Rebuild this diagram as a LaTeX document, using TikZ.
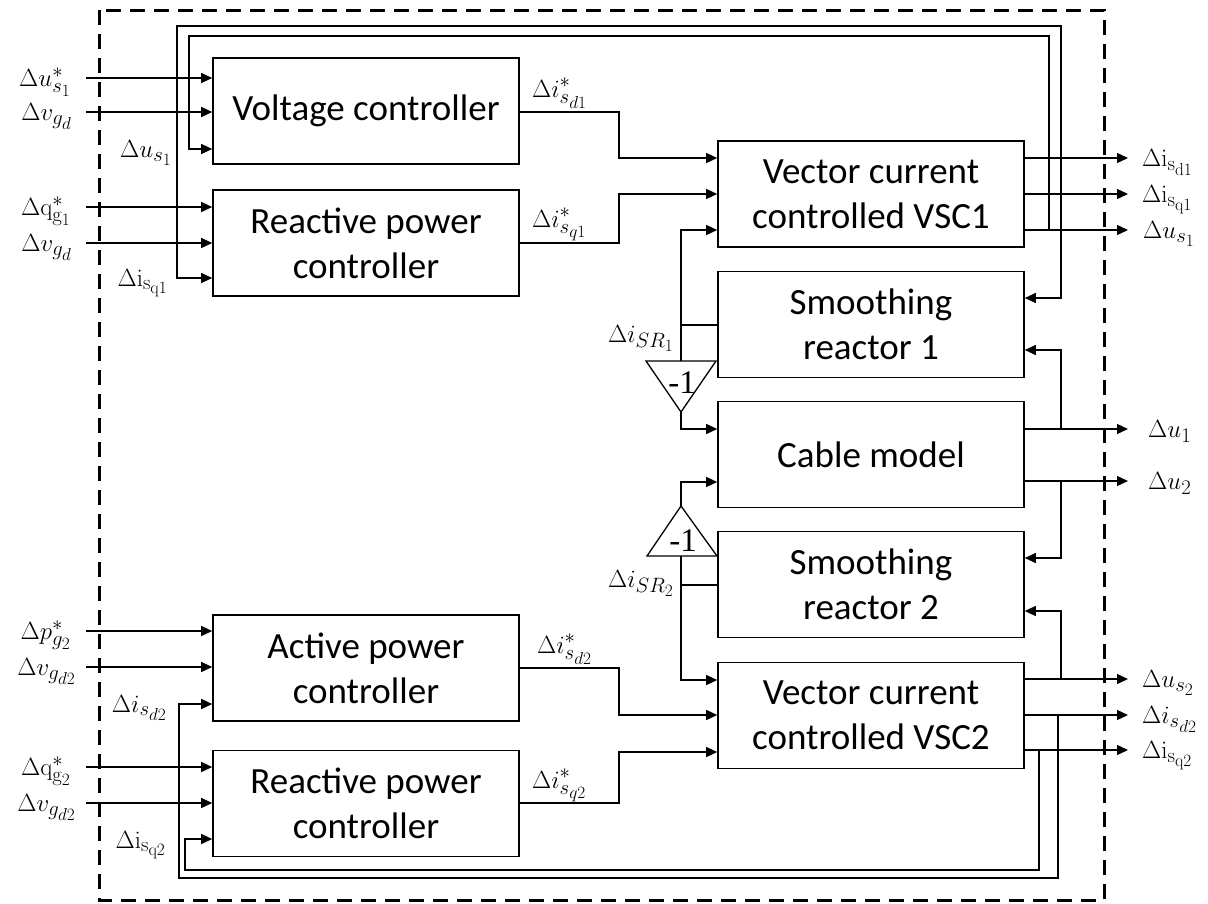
\documentclass[tikz,border=0pt]{standalone}
\usepackage[no-math]{fontspec}
\setmainfont{Carlito}
\newfontfamily\gainfont{Liberation Serif}
\usetikzlibrary{arrows.meta}
\DeclareMathSizes{27}{27}{20}{16}
\begin{document}
\begin{tikzpicture}[x=1pt,y=-1pt,
  blk/.style={draw, line width=1.6pt, minimum width=306pt, minimum height=106pt, align=center, font=\fontsize{37}{45}\selectfont, inner sep=0pt},
  wire/.style={line width=1.3pt},
  arr/.style={wire,-{Triangle[length=11pt,width=10pt]}},
  lab/.style={font=\fontsize{27}{32}\selectfont, inner sep=0pt},
  gain/.style={font=\gainfont\fontsize{33}{38}\selectfont, inner sep=0pt},
  frame/.style={line width=3pt, dash pattern=on 15pt off 9pt}
]
\useasboundingbox (0,0) rectangle (1208,903);
\draw[frame] (99,10) rectangle (1104,900);

% blocks
\node[blk] (vc) at (366,111) {Voltage controller};
\node[blk] (rp1) at (366,243) {Reactive power\\controller};
\node[blk] (vsc1) at (871,194) {Vector current\\controlled VSC1};
\node[blk] (sr1) at (871,324.5) {Smoothing\\reactor 1};
\node[blk] (cab) at (871,454.5) {Cable model};
\node[blk] (sr2) at (871,584.5) {Smoothing\\reactor 2};
\node[blk] (vsc2) at (871,715.5) {Vector current\\controlled VSC2};
\node[blk] (ap) at (366,668) {Active power\\controller};
\node[blk] (rp2) at (366,803.5) {Reactive power\\controller};

% gains
\draw[wire] (646,361) -- (716,361) -- (681,412) -- cycle;
\node[gain] (g1) at (682,383) {-1};
\draw[wire] (647,556) -- (717,556) -- (681,506) -- cycle;
\node[gain] (g2) at (683,541) {-1};
\coordinate (g1in) at (681,361);
\coordinate (g1out) at (681,412);
\coordinate (g2in) at (681,556);
\coordinate (g2out) at (681,506);

% external inputs
\coordinate (a1) at (86,78);   \draw[arr] (a1) -- (a1 -| vc.west);
\coordinate (a2) at (86,112);  \draw[arr] (a2) -- (a2 -| vc.west);
\coordinate (a3) at (86,207);  \draw[arr] (a3) -- (a3 -| rp1.west);
\coordinate (a4) at (86,243);  \draw[arr] (a4) -- (a4 -| rp1.west);
\coordinate (a5) at (86,631);  \draw[arr] (a5) -- (a5 -| ap.west);
\coordinate (a6) at (86,667);  \draw[arr] (a6) -- (a6 -| ap.west);
\coordinate (a7) at (86,767);  \draw[arr] (a7) -- (a7 -| rp2.west);
\coordinate (a8) at (86,803);  \draw[arr] (a8) -- (a8 -| rp2.west);

% controller -> VSC
\draw[arr] (vc.east |- 0,112) -- (619,112) -- (619,158) -- (vsc1.west |- 0,158);
\draw[arr] (rp1.east |- 0,243) -- (619,243) -- (619,194) -- (vsc1.west |- 0,194);
\draw[arr] (ap.east |- 0,668) -- (619,668) -- (619,715) -- (vsc2.west |- 0,715);
\draw[arr] (rp2.east |- 0,803) -- (619,803) -- (619,752) -- (vsc2.west |- 0,752);

% VSC1 outputs
\coordinate (b1) at (1128,158); \draw[arr] (vsc1.east |- b1) -- (b1);
\coordinate (b2) at (1128,194); \draw[arr] (vsc1.east |- b2) -- (b2);
\coordinate (b3) at (1128,230); \draw[arr] (vsc1.east |- b3) -- (b3);
\coordinate (j1) at (1061,194);
\coordinate (j2) at (1049,230);
\draw[arr] (j1) -- (1061,26) -- (177,26) -- (177,278) -- (rp1.west |- 0,278);
\draw[arr] (j2) -- (1049,36) -- (189,36) -- (189,149) -- (vc.west |- 0,149);
\draw[arr] (j1) -- (1061,298) -- (sr1.east |- 0,298);

% smoothing reactor 1
\draw[arr] (sr1.west |- 0,325) -- (681,325) -- (681,230) -- (vsc1.west |- 0,230);
\draw[wire] (681,325) -- (g1in);
\draw[arr] (g1out) -- (681,429) -- (cab.west |- 0,429);

% smoothing reactor 2
\draw[arr] (g2out) -- (681,482) -- (cab.west |- 0,482);
\draw[arr] (sr2.west |- 0,585) -- (681,585) -- (681,680) -- (vsc2.west |- 0,680);
\draw[wire] (681,585) -- (g2in);

% cable outputs
\coordinate (c1) at (1128,429); \draw[arr] (cab.east |- c1) -- (c1);
\coordinate (c2) at (1128,481); \draw[arr] (cab.east |- c2) -- (c2);
\draw[arr] (1061,429) -- (1061,350) -- (sr1.east |- 0,350);
\draw[arr] (1061,481) -- (1061,558) -- (sr2.east |- 0,558);

% VSC2 outputs
\coordinate (d1) at (1128,679); \draw[arr] (vsc2.east |- d1) -- (d1);
\coordinate (d2) at (1128,715); \draw[arr] (vsc2.east |- d2) -- (d2);
\coordinate (d3) at (1128,750); \draw[arr] (vsc2.east |- d3) -- (d3);
\draw[arr] (1061,679) -- (1061,611) -- (sr2.east |- 0,611);
\draw[arr] (1058,715) -- (1058,878) -- (179,878) -- (179,704) -- (ap.west |- 0,704);
\draw[arr] (1039,750) -- (1039,870) -- (185,870) -- (185,839) -- (rp2.west |- 0,839);

% left labels
\node[lab,anchor=base east] (l1) at (71,86.5) {$\Delta u^{*}_{s_1}$};
\node[lab,anchor=base east] (l2) at (72,120.5) {$\Delta v_{g_d}$};
\node[lab,anchor=base east] (l3) at (71,215.5) {$\Delta\mathrm{q}^{*}_{\mathrm{g}_1}$};
\node[lab,anchor=base east] (l4) at (72,251.5) {$\Delta v_{g_d}$};
\node[lab,anchor=base east] (l5) at (71,639.5) {$\Delta p^{*}_{g_2}$};
\node[lab,anchor=base east] (l6) at (76,675.5) {$\Delta v_{g_{d2}}$};
\node[lab,anchor=base east] (l7) at (71,775.5) {$\Delta\mathrm{q}^{*}_{\mathrm{g}_2}$};
\node[lab,anchor=base east] (l8) at (76,811.5) {$\Delta v_{g_{d2}}$};

% feedback labels
\node[lab,anchor=base east] (f1) at (172,157.5) {$\Delta u_{s_1}$};
\node[lab,anchor=base east] (f2) at (168,286) {$\Delta\mathrm{i}_{\mathrm{s}_{\mathrm{q1}}}$};
\node[lab,anchor=base east] (f3) at (167,712) {$\Delta i_{s_{d2}}$};
\node[lab,anchor=base east] (f4) at (166,848) {$\Delta\mathrm{i}_{\mathrm{s}_{\mathrm{q2}}}$};

% right labels
\node[lab,anchor=base west] (r1) at (1142,166.5) {$\Delta\mathrm{i}_{\mathrm{s}_{\mathrm{d1}}}$};
\node[lab,anchor=base west] (r2) at (1142,202.5) {$\Delta\mathrm{i}_{\mathrm{s}_{\mathrm{q1}}}$};
\node[lab,anchor=base west] (r3) at (1143,238.5) {$\Delta u_{s_1}$};
\node[lab,anchor=base west] (r4) at (1148,437.5) {$\Delta u_1$};
\node[lab,anchor=base west] (r5) at (1148,489.5) {$\Delta u_2$};
\node[lab,anchor=base west] (r6) at (1142,687.5) {$\Delta u_{s_2}$};
\node[lab,anchor=base west] (r7) at (1142,723.5) {$\Delta i_{s_{d2}}$};
\node[lab,anchor=base west] (r8) at (1142,758.5) {$\Delta\mathrm{i}_{\mathrm{s}_{\mathrm{q2}}}$};

% wire labels
\node[lab,anchor=base west] (w1) at (532,97) {$\Delta i^{*}_{s_{d1}}$};
\node[lab,anchor=base west] (w2) at (532,227) {$\Delta i^{*}_{s_{q1}}$};
\node[lab,anchor=base west] (w3) at (537,653) {$\Delta i^{*}_{s_{d2}}$};
\node[lab,anchor=base west] (w4) at (532,788) {$\Delta i^{*}_{s_{q2}}$};
\node[lab,anchor=base west] (w5) at (608,342) {$\Delta i_{SR_1}$};
\node[lab,anchor=base west] (w6) at (608,587) {$\Delta i_{SR_2}$};
\end{tikzpicture}
\end{document}
